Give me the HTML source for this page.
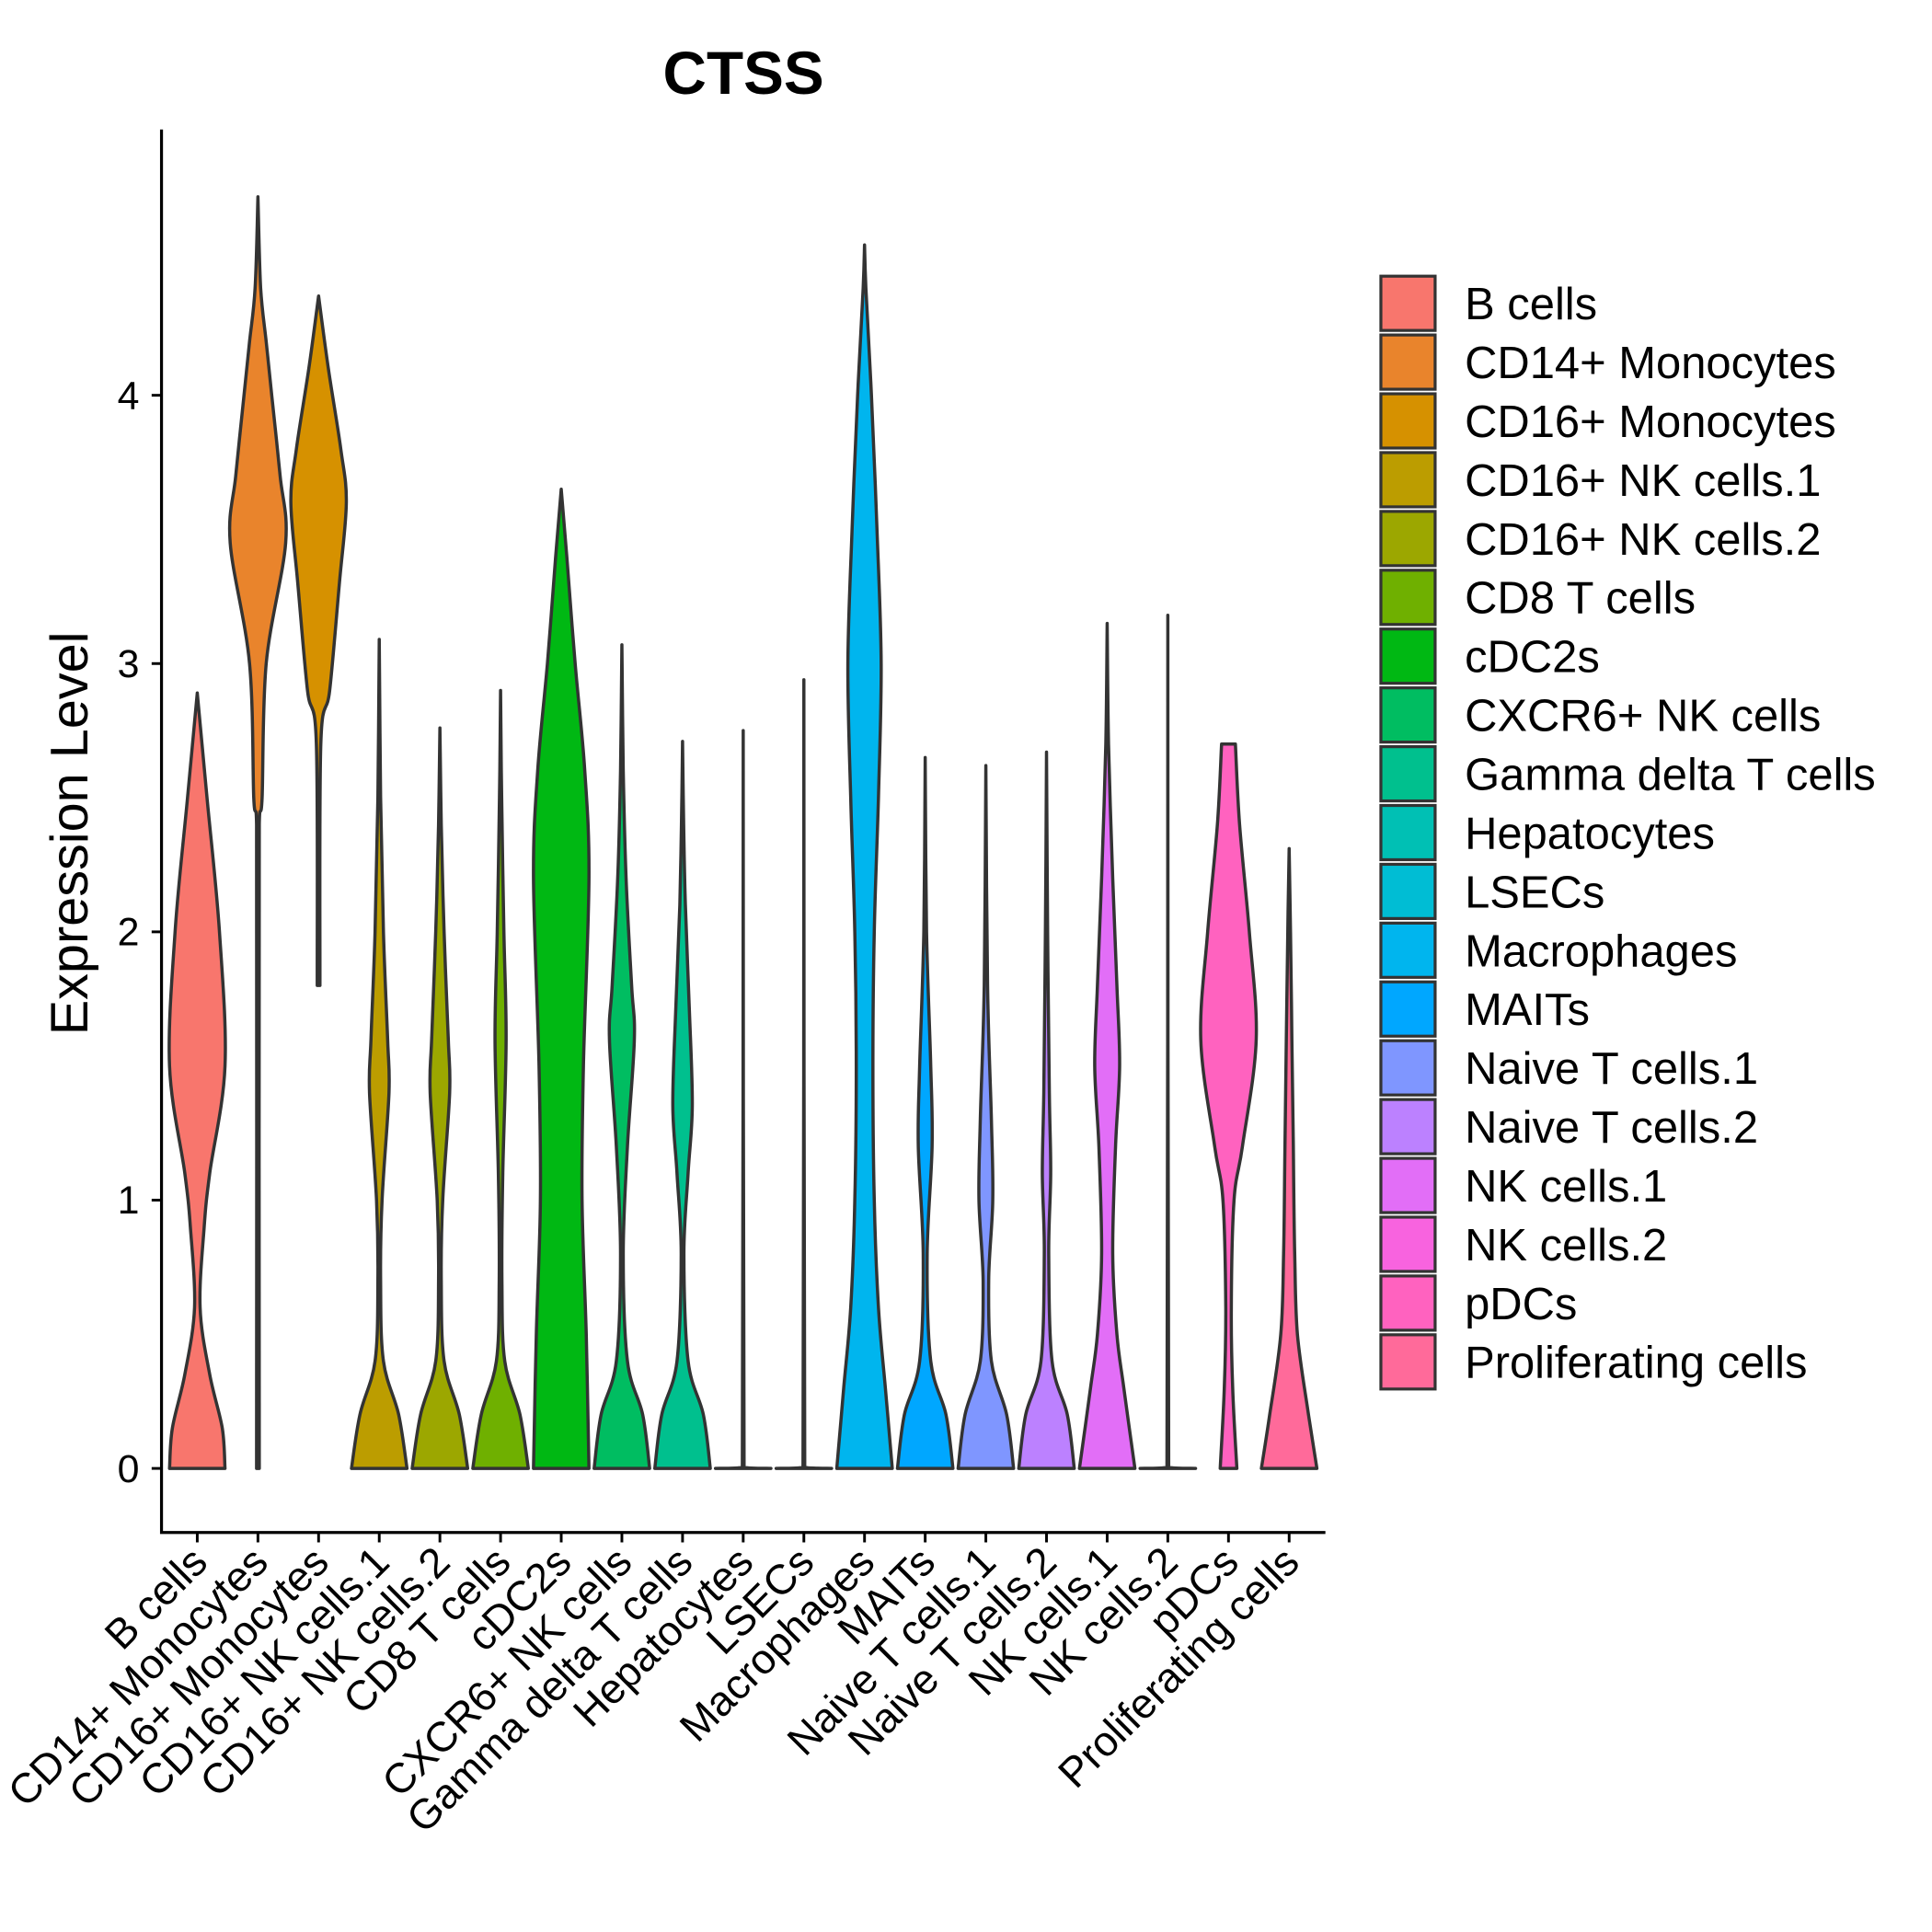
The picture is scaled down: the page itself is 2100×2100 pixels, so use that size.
<!DOCTYPE html>
<html><head><meta charset="utf-8"><style>
html,body{margin:0;padding:0;background:#fff;}
svg{display:block;font-family:"Liberation Sans",Arial,sans-serif;}
</style></head><body>
<svg id="chart" width="2100" height="2100" viewBox="0 0 1567 1567" xmlns="http://www.w3.org/2000/svg">
<rect width="1567" height="1567" fill="#fff"/>
<text x="603" y="76" text-anchor="middle" font-size="49" font-weight="bold">CTSS</text>
<text transform="translate(71,676) rotate(-90)" text-anchor="middle" font-size="43">Expression Level</text>
<g id="plot"></g>
<g id="legend"></g>
</svg>
<script>
const categories=["B cells","CD14+ Monocytes","CD16+ Monocytes","CD16+ NK cells.1","CD16+ NK cells.2","CD8 T cells","cDC2s","CXCR6+ NK cells","Gamma delta T cells","Hepatocytes","LSECs","Macrophages","MAITs","Naive T cells.1","Naive T cells.2","NK cells.1","NK cells.2","pDCs","Proliferating cells"];
const colors=["#F8766D","#E9842C","#D69100","#BC9D00","#9CA700","#6FB000","#00B813","#00BD61","#00C08E","#00C0B4","#00BDD4","#00B5EE","#00A7FF","#7F96FF","#BC81FF","#E26EF7","#F863DF","#FF62BF","#FF6A9A"];
const yTicks=[0,1,2,3,4];
// density profiles: [value, relative half-width]
const profiles=[
[[0,1],[0.15,0.9],[0.35,0.45],[0.6,0.1],[0.9,0.25],[1.1,0.45],[1.5,1],[2.0,0.8],[2.5,0.35],[2.89,0]],
[[0,0.05],[2.4,0.05],[2.5,0.15],[3.0,0.3],[3.45,1],[3.7,0.8],[4.0,0.5],[4.2,0.3],[4.4,0.1],[4.74,0]],
[[1.8,0.05],[2.7,0.08],[2.9,0.4],[3.3,0.75],[3.6,1],[3.8,0.8],[4.1,0.35],[4.37,0]],
[[0,1],[0.2,0.7],[0.4,0.15],[0.7,0.05],[1.0,0.1],[1.4,0.35],[1.6,0.3],[2.0,0.15],[2.5,0.05],[3.09,0]],
[[0,1],[0.2,0.7],[0.4,0.15],[0.7,0.05],[1.0,0.1],[1.4,0.35],[1.6,0.3],[2.0,0.15],[2.4,0.05],[2.76,0]],
[[0,1],[0.2,0.7],[0.4,0.15],[0.7,0.05],[1.1,0.08],[1.6,0.2],[2.0,0.12],[2.5,0.04],[2.9,0]],
[[0,1],[0.5,0.9],[1.0,0.75],[1.5,0.8],[2.2,1],[2.6,0.85],[3.0,0.5],[3.4,0.2],[3.65,0]],
[[0,1],[0.2,0.75],[0.4,0.2],[0.8,0.05],[1.2,0.2],[1.6,0.45],[1.8,0.35],[2.2,0.15],[2.6,0.05],[3.07,0]],
[[0,1],[0.2,0.75],[0.4,0.2],[0.8,0.05],[1.1,0.2],[1.35,0.35],[1.7,0.25],[2.1,0.1],[2.4,0.04],[2.71,0]],
[[0,1],[0.004,0.03],[2.75,0]],
[[0,1],[0.004,0.03],[2.94,0]],
[[0,1],[0.3,0.75],[0.6,0.5],[1.0,0.35],[1.5,0.3],[2.0,0.35],[2.5,0.5],[3.0,0.6],[3.5,0.45],[4.0,0.25],[4.4,0.05],[4.56,0]],
[[0,1],[0.2,0.75],[0.4,0.2],[0.8,0.07],[1.2,0.25],[1.5,0.2],[2.0,0.05],[2.65,0]],
[[0,1],[0.2,0.75],[0.4,0.2],[0.7,0.1],[1.0,0.25],[1.3,0.2],[1.8,0.06],[2.62,0]],
[[0,1],[0.2,0.75],[0.4,0.2],[0.8,0.08],[1.1,0.15],[1.4,0.1],[2.0,0.04],[2.67,0]],
[[0,1],[0.3,0.6],[0.5,0.35],[0.8,0.2],[1.2,0.3],[1.5,0.45],[1.8,0.35],[2.2,0.2],[2.7,0.05],[3.15,0]],
[[0,1],[0.004,0.03],[3.18,0]],
[[0,0.3],[0.3,0.15],[0.6,0.1],[1.0,0.2],[1.2,0.5],[1.6,1],[2.0,0.75],[2.4,0.4],[2.7,0.25]],
[[0,1],[0.2,0.7],[0.5,0.3],[0.8,0.2],[1.2,0.15],[1.6,0.1],[2.0,0.05],[2.31,0]]
];
const NS="http://www.w3.org/2000/svg";
const plot=document.getElementById('plot'),leg=document.getElementById('legend');
const X0=131,X1=1075,YT=105,YB=1243;
const y=v=>1191-v*217.6;
const x=i=>160+i*49.2;
const HW=22.5;
function mk(t,a,p){const e=document.createElementNS(NS,t);for(const k in a)e.setAttribute(k,a[k]);(p||plot).appendChild(e);return e;}
const clamp=(v,a,b)=>Math.min(Math.max(v,Math.min(a,b)),Math.max(a,b));
function spline(pts,cx){
  let d='';
  for(let k=0;k<pts.length-1;k++){
    const p0=pts[Math.max(k-1,0)],p1=pts[k],p2=pts[k+1],p3=pts[Math.min(k+2,pts.length-1)];
    let c1=[p1[0]+(p2[0]-p0[0])/6,p1[1]+(p2[1]-p0[1])/6];
    let c2=[p2[0]-(p3[0]-p1[0])/6,p2[1]-(p3[1]-p1[1])/6];
    c1[1]=clamp(c1[1],p1[1],p2[1]);c2[1]=clamp(c2[1],p1[1],p2[1]);
    const sgn=Math.sign(p1[0]-cx||p2[0]-cx);
    if(sgn>0){c1[0]=Math.max(c1[0],cx);c2[0]=Math.max(c2[0],cx);}else{c1[0]=Math.min(c1[0],cx);c2[0]=Math.min(c2[0],cx);}
    d+=`C${c1[0].toFixed(1)},${c1[1].toFixed(1)} ${c2[0].toFixed(1)},${c2[1].toFixed(1)} ${p2[0].toFixed(1)},${p2[1].toFixed(1)}`;
  }
  return d;
}
profiles.forEach((pr,i)=>{
  const cx=x(i);
  const R=pr.map(p=>[cx+p[1]*HW,y(p[0])]);
  const L=pr.slice().reverse().map(p=>[cx-p[1]*HW,y(p[0])]);
  const d=`M${R[0][0].toFixed(1)},${R[0][1].toFixed(1)}`+spline(R,cx)+`L${L[0][0].toFixed(1)},${L[0][1].toFixed(1)}`+spline(L,cx)+'Z';
  const el=mk('path',{d:d,fill:colors[i],stroke:'#333',"stroke-width":2.6,"stroke-linejoin":"round"});
  
  
  const tk=mk('line',{x1:cx,x2:cx,y1:YB,y2:YB+8,stroke:'#000',"stroke-width":2.2});
  
  
  const lb=mk('text',{transform:`translate(${cx+10},${YB+26}) rotate(-45)`,"text-anchor":"end","font-size":34});
  lb.textContent=categories[i];
  
  
  const ly=224+i*47.7;
  const sw=mk('rect',{x:1120,y:ly,width:44,height:44,fill:colors[i],stroke:'#333',"stroke-width":2.4},leg);
  
  
  const lt=mk('text',{x:1188,y:ly+35,"font-size":36.5},leg);
  lt.textContent=categories[i];
  
  
});
yTicks.forEach(v=>{
  const t=mk('line',{x1:X0-8,x2:X0,y1:y(v),y2:y(v),stroke:'#000',"stroke-width":2.2});
  
  
  const l=mk('text',{x:X0-18,y:y(v)+11,"text-anchor":"end","font-size":32});
  l.textContent=v;
  
  
});
const ax=mk('path',{d:`M${X0},${YT}L${X0},${YB}L${X1},${YB}`,fill:'none',stroke:'#000',"stroke-width":2.4});


</script>
</body></html>
